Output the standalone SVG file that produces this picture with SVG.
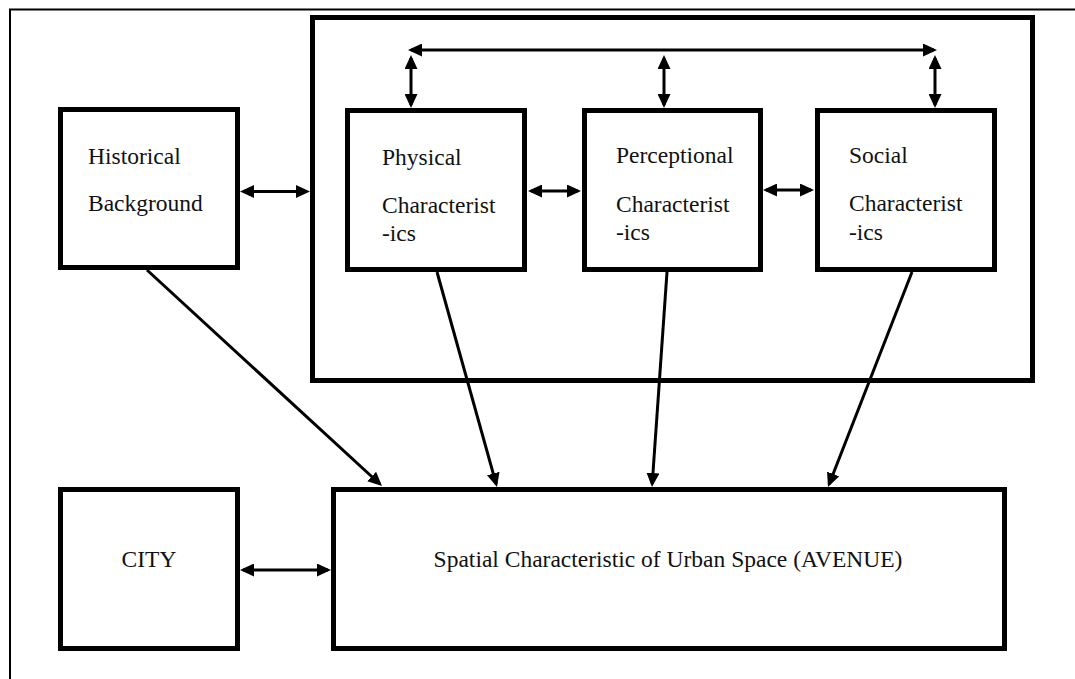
<svg xmlns="http://www.w3.org/2000/svg" width="1075" height="679" viewBox="0 0 1075 679">
  <style>
    .box { fill: #ffffff; stroke: #000000; stroke-width: 5; }
    .frame { fill: none; stroke: #000000; stroke-width: 2; }
    .lbl { font-family: "Liberation Serif", "Times New Roman", serif; font-size: 23.5px; fill: #111111; }
    .link { fill: none; stroke: #000000; stroke-width: 3; }
    .both { marker-start: url(#head); marker-end: url(#head); }
    .one { marker-end: url(#head); }
  </style>
  <defs>
    <marker id="head" viewBox="0 0 14 13" refX="11" refY="6.5" markerWidth="14" markerHeight="13" markerUnits="userSpaceOnUse" orient="auto-start-reverse">
      <path d="M0,0 L14,6.5 L0,13 z" fill="#000000"/>
    </marker>
  </defs>

  <rect width="1075" height="679" fill="#ffffff"/>

  <!-- page frame (open on the right and bottom) -->
  <path class="frame" d="M10,679 V9.5 H1075"/>

  <!-- group enclosing the three characteristic boxes -->
  <g id="characteristics-group">
    <rect class="box" x="312.5" y="17.5" width="720" height="363"/>
  </g>

  <g id="historical">
    <rect class="box" x="60.5" y="109.5" width="177" height="158"/>
    <text class="lbl" x="88" y="164">Historical</text>
    <text class="lbl" x="88" y="211">Background</text>
  </g>

  <g id="physical">
    <rect class="box" x="347.5" y="110.5" width="177" height="159"/>
    <text class="lbl" x="382" y="165">Physical</text>
    <text class="lbl" x="382" y="213">Characterist</text>
    <text class="lbl" x="382" y="241">-ics</text>
  </g>

  <g id="perceptional">
    <rect class="box" x="584.5" y="110.5" width="176" height="159"/>
    <text class="lbl" x="616" y="163">Perceptional</text>
    <text class="lbl" x="616" y="211.5">Characterist</text>
    <text class="lbl" x="616" y="240">-ics</text>
  </g>

  <g id="social">
    <rect class="box" x="817.5" y="110.5" width="177" height="159"/>
    <text class="lbl" x="849" y="163">Social</text>
    <text class="lbl" x="849" y="211">Characterist</text>
    <text class="lbl" x="849" y="239.5">-ics</text>
  </g>

  <g id="city">
    <rect class="box" x="60.5" y="489.5" width="177" height="159"/>
    <text class="lbl" x="149" y="567" text-anchor="middle">CITY</text>
  </g>

  <g id="avenue">
    <rect class="box" x="333.5" y="489.5" width="671" height="159"/>
    <text class="lbl" x="668" y="567" text-anchor="middle">Spatial Characteristic of Urban Space (AVENUE)</text>
  </g>

  <g id="connectors">
    <!-- two-way links -->
    <line class="link both" x1="243" y1="191.5" x2="307" y2="191.5"/>
    <line class="link both" x1="531" y1="191" x2="578" y2="191"/>
    <line class="link both" x1="766" y1="190" x2="811" y2="190"/>
    <line class="link both" x1="243" y1="570" x2="328" y2="570"/>
    <line class="link both" x1="411" y1="50" x2="934" y2="50"/>
    <line class="link both" x1="411" y1="58" x2="411" y2="105"/>
    <line class="link both" x1="664" y1="58" x2="664" y2="105"/>
    <line class="link both" x1="935" y1="58" x2="935" y2="105"/>
    <!-- one-way links into the avenue -->
    <line class="link one" x1="147" y1="270" x2="379.8" y2="484"/>
    <line class="link one" x1="437" y1="272" x2="496.2" y2="484.1"/>
    <line class="link one" x1="667" y1="272" x2="652.2" y2="484"/>
    <line class="link one" x1="912" y1="272" x2="829.1" y2="484.2"/>
  </g>
</svg>
